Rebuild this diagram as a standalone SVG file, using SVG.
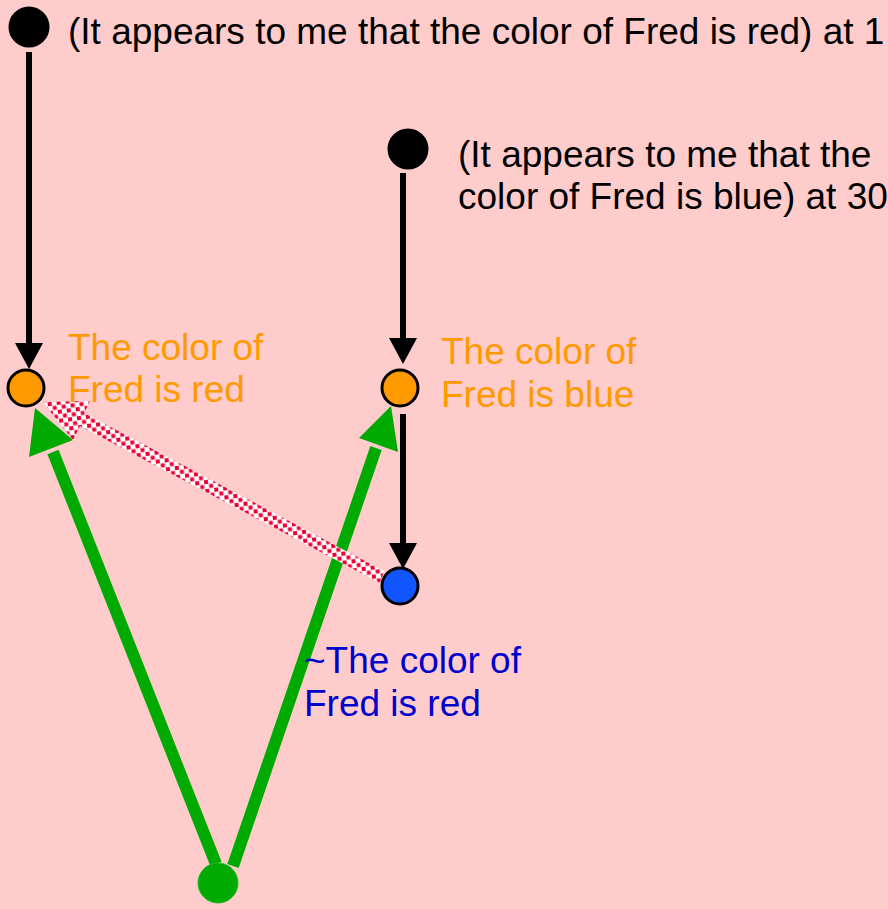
<svg xmlns="http://www.w3.org/2000/svg" width="888" height="909" viewBox="0 0 888 909">
<defs>
<style>
text{font-family:"Liberation Sans",Arial,sans-serif;font-size:37px}
.blk{fill:#000}
.org{fill:#FF9900}
.blu{fill:#0000CC}
.edge-black{stroke:#000;stroke-width:6;fill:none}
.edge-green{stroke:#00AA00;stroke-width:12;fill:none}
.node{stroke:#000;stroke-width:3}
</style>
<pattern id="dots" patternUnits="userSpaceOnUse" width="9" height="9" patternTransform="rotate(-8)">
<rect width="9" height="9" fill="#fff"/>
<rect x="0" y="0" width="4" height="4" fill="#EE0033"/>
<rect x="4.5" y="4.5" width="4" height="4" fill="#EE0033"/>
</pattern>
</defs>
<rect width="888" height="909" fill="#FFCCCC"/>
<g id="connectors">
<line class="edge-black" x1="29" y1="52" x2="29" y2="345"/>
<polygon points="15,343 43,343 29,369" fill="#000"/>
<line class="edge-black" x1="403" y1="173" x2="403" y2="340"/>
<polygon points="389,338 417,338 403,364" fill="#000"/>
<line class="edge-black" x1="403" y1="414" x2="403" y2="545"/>
<polygon points="389,543 417,543 403,569" fill="#000"/>
<line class="edge-green" x1="216" y1="864" x2="53" y2="452"/>
<polygon points="35,408 29,457 73,440" fill="#00AA00"/>
<line class="edge-green" x1="233" y1="866" x2="376" y2="448"/>
<polygon points="391,406 359,438 398,452" fill="#00AA00"/>
<polygon points="384,571 380,583 80,426 73,440 43,402 90,401 84,413" fill="url(#dots)"/>
</g>
<g id="n1"><circle class="node" cx="29" cy="27" r="19" fill="#000"/>
<text class="blk" x="68" y="44">(It appears to me that the color of Fred is red) at 1</text></g>
<g id="n2"><circle class="node" cx="408" cy="149" r="19" fill="#000"/>
<text class="blk" x="458" y="167">(It appears to me that the</text>
<text class="blk" x="458" y="209">color of Fred is blue) at 30</text></g>
<g id="n3"><circle class="node" cx="26" cy="388" r="18" fill="#FF9900"/>
<text class="org" x="68" y="360">The color of</text>
<text class="org" x="68" y="402">Fred is red</text></g>
<g id="n4"><circle class="node" cx="400" cy="388" r="18" fill="#FF9900"/>
<text class="org" x="441" y="364">The color of</text>
<text class="org" x="441" y="407">Fred is blue</text></g>
<g id="n5"><circle class="node" cx="400" cy="586" r="18" fill="#1155FF"/>
<text class="blu" x="304" y="673">~The color of</text>
<text class="blu" x="304" y="716">Fred is red</text></g>
<g id="n6"><circle cx="218" cy="883" r="20" fill="#00AA00" stroke="#22BB22" stroke-width="1"/></g>
</svg>
